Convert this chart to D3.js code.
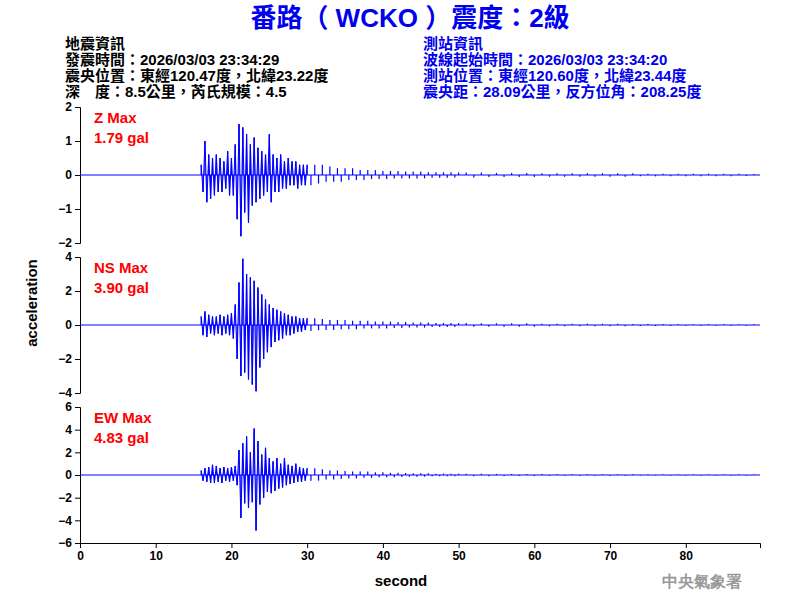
<!DOCTYPE html>
<html lang="en">
<head>
<meta charset="UTF-8">
<title>WCKO</title>
<script src="https://d3js.org/d3.v7.min.js"></script>
<style>
  body { margin: 0; background: #fff; }
  text { font-family: "Liberation Sans", Arial, sans-serif; }
  .cjk { font-family: "Liberation Sans", "Noto Sans CJK TC", sans-serif; font-weight: bold; }
</style>
</head>
<body>
<div id="chart"></div>
<script>
// sample times: 0.25s steps in the strong part, coarser in the coda
const times = [].concat(d3.range(16, 30.01, 0.25), d3.range(30.5, 50.01, 0.5), d3.range(51, 89.01, 1));

const zVals = [
  0.3,-0.5,1.0,-0.8,0.6,-0.7,0.5,-0.6,
  0.6,-0.5,0.5,-0.5,0.4,-0.4,0.7,-0.6,
  0.5,-0.6,0.9,-1.3,1.5,-1.8,1.4,-1.1,
  1.2,-1.4,0.9,-0.9,1.1,-0.8,0.8,-0.7,
  0.7,-0.6,0.6,-0.5,1.2,-0.8,0.6,-0.5,
  0.5,-0.5,0.6,-0.4,0.4,-0.4,0.5,-0.3,
  0.4,-0.3,0.4,-0.4,0.3,-0.3,0.3,-0.3,
  0.3,
  -0.3,0.3,-0.25,0.3,-0.2,0.25,-0.2,0.2,-0.2,0.2,
  -0.15,0.2,-0.15,0.15,-0.15,0.15,-0.12,0.15,-0.12,0.12,
  -0.12,0.12,-0.1,0.12,-0.1,0.1,-0.1,0.1,-0.1,0.1,
  -0.1,0.08,-0.08,0.08,-0.08,0.08,-0.08,0.08,-0.07,0.07,
  0.07,-0.07,0.07,-0.06,0.06,-0.06,0.06,-0.06,0.06,-0.06,
  0.05,-0.05,0.05,-0.05,0.05,-0.05,0.05,-0.05,0.05,-0.05,
  0.05,-0.05,0.05,-0.04,0.04,-0.04,0.04,-0.04,0.04,-0.04,
  0.04,-0.04,0.04,-0.04,0.04,-0.04,0.04,-0.03,0.03
];
const nsVals = [
  0.5,-0.6,0.8,-0.7,0.6,-0.5,0.5,-0.6,
  0.5,-0.5,0.6,-0.6,0.5,-0.5,0.6,-0.6,
  0.7,-0.8,1.2,-2.0,2.5,-3.0,3.9,-2.8,
  3.0,-3.2,2.8,-3.5,2.6,-3.9,2.2,-2.5,
  1.8,-2.0,1.5,-1.6,1.2,-1.3,1.0,-1.0,
  0.9,-0.9,0.8,-0.8,0.7,-0.6,0.6,-0.6,
  0.5,-0.5,0.5,-0.4,0.4,-0.4,0.4,-0.3,
  0.4,
  -0.35,0.4,-0.3,0.35,-0.3,0.3,-0.3,0.3,-0.25,0.3,
  -0.25,0.25,-0.25,0.25,-0.2,0.25,-0.2,0.2,-0.2,0.2,
  -0.2,0.2,-0.18,0.18,-0.18,0.18,-0.15,0.15,-0.15,0.15,
  -0.15,0.15,-0.12,0.12,-0.12,0.12,-0.12,0.12,-0.12,0.12,
  0.12,-0.1,0.1,-0.1,0.1,-0.1,0.1,-0.1,0.1,-0.1,
  0.08,-0.08,0.08,-0.08,0.08,-0.08,0.08,-0.07,0.07,-0.07,
  0.07,-0.07,0.06,-0.06,0.06,-0.06,0.06,-0.06,0.05,-0.05,
  0.05,-0.05,0.05,-0.05,0.05,-0.05,0.05,-0.05,0.05
];
const ewVals = [
  0.4,-0.5,0.6,-0.6,0.7,-0.7,0.9,-0.7,
  0.8,-0.6,0.6,-0.7,0.7,-0.5,0.6,-0.6,
  0.7,-0.5,0.8,-0.9,2.2,-3.8,2.8,-2.5,
  3.4,-2.9,2.0,-2.4,4.1,-4.9,3.0,-2.6,
  1.8,-2.0,2.4,-1.5,1.5,-1.6,1.2,-1.4,
  1.5,-1.2,1.0,-1.1,1.5,-0.9,0.9,-0.8,
  0.8,-0.7,1.0,-0.6,0.7,-0.6,0.6,-0.5,
  0.6,
  -0.5,0.6,-0.5,0.5,-0.4,0.4,-0.4,0.4,-0.35,0.35,
  -0.3,0.3,-0.3,0.3,-0.25,0.3,-0.25,0.25,-0.2,0.25,
  -0.2,0.2,-0.2,0.2,-0.18,0.18,-0.15,0.15,-0.15,0.15,
  -0.15,0.15,-0.12,0.12,-0.12,0.12,-0.12,0.12,-0.1,0.1,
  0.1,-0.1,0.1,-0.1,0.1,-0.08,0.08,-0.08,0.08,-0.08,
  0.08,-0.08,0.07,-0.07,0.07,-0.07,0.07,-0.06,0.06,-0.06,
  0.06,-0.06,0.06,-0.05,0.05,-0.05,0.05,-0.05,0.05,-0.05,
  0.05,-0.05,0.05,-0.04,0.04,-0.04,0.04,-0.04,0.04
];

const channels = [
  { name: "Z Max",  peak: "1.79 gal", vals: zVals,  lim: 2, ticks: [-2,-1,0,1,2] },
  { name: "NS Max", peak: "3.90 gal", vals: nsVals, lim: 4, ticks: [-4,-2,0,2,4] },
  { name: "EW Max", peak: "4.83 gal", vals: ewVals, lim: 6, ticks: [-6,-4,-2,0,2,4,6] }
];
const xTicks = [0,10,20,30,40,50,60,70,80];

const leftInfo = ["地震資訊", "發震時間：2026/03/03 23:34:29", "震央位置：東經120.47度，北緯23.22度", "深　度：8.5公里，芮氏規模：4.5"];
const rightInfo = ["測站資訊", "波線起始時間：2026/03/03 23:34:20", "測站位置：東經120.60度，北緯23.44度", "震央距：28.09公里，反方位角：208.25度"];

const width = 800, height = 600;
const svg = d3.select("#chart").append("svg").attr("width", width).attr("height", height);

const x = d3.scaleLinear().domain([0, 89.8]).range([80, 760]);
const panelTop = [107, 257, 407], panelH = 136;

svg.append("text").attr("class", "cjk").attr("x", 410).attr("y", 27).attr("text-anchor", "middle")
  .attr("fill", "#0000ee").attr("font-size", 26).text("番路（ WCKO ）震度：2級");

svg.selectAll(".li").data(leftInfo).join("text").attr("class", "cjk")
  .attr("x", 65).attr("y", (d, i) => 49 + i * 16).attr("font-size", 15).attr("fill", "#000").text(d => d);
svg.selectAll(".ri").data(rightInfo).join("text").attr("class", "cjk")
  .attr("x", 423).attr("y", (d, i) => 49 + i * 16).attr("font-size", 15).attr("fill", "#0000ee").text(d => d);

channels.forEach((c, k) => {
  const y = d3.scaleLinear().domain([-c.lim, c.lim]).range([panelTop[k] + panelH, panelTop[k]]);
  const g = svg.append("g");
  g.append("g").attr("transform", "translate(80,0)")
    .call(d3.axisLeft(y).tickValues(c.ticks).tickSize(5).tickFormat(d3.format("d")))
    .call(a => a.selectAll("text").attr("font-size", 12).attr("font-weight", "bold").attr("fill", "#000")
      .attr("font-family", "Liberation Sans, Arial"))
    .call(a => a.select(".domain").attr("stroke", "#000"));

  const samples = times.map((t, i) => [t, c.vals[i]]).filter(d => d[1] !== undefined);
  // zero trace, then each sample as a spike from zero
  g.append("line").attr("x1", x(0)).attr("x2", x(89.8)).attr("y1", y(0)).attr("y2", y(0))
    .attr("stroke", "#0000ff");
  g.selectAll(".spike").data(samples).join("line")
    .attr("x1", d => x(d[0])).attr("x2", d => x(d[0]))
    .attr("y1", y(0)).attr("y2", d => y(d[1]))
    .attr("stroke", "#0000ff").attr("stroke-width", 1.2);
  g.append("path").datum(samples.filter(d => d[0] <= 30))
    .attr("d", d3.line().x(d => x(d[0])).y(d => y(d[1])))
    .attr("fill", "none").attr("stroke", "#0000ff").attr("stroke-width", 1);

  g.append("text").attr("x", 94).attr("y", panelTop[k] + 16).attr("fill", "#ff0000")
    .attr("font-size", 15).attr("font-weight", "bold").text(c.name);
  g.append("text").attr("x", 94).attr("y", panelTop[k] + 36).attr("fill", "#ff0000")
    .attr("font-size", 15).attr("font-weight", "bold").text(c.peak);
});

svg.append("g").attr("transform", "translate(0,543)")
  .call(d3.axisBottom(x).tickValues(xTicks).tickSize(5))
  .call(a => a.selectAll("text").attr("font-size", 12).attr("font-weight", "bold").attr("fill", "#000")
    .attr("font-family", "Liberation Sans, Arial"))
  .call(a => a.select(".domain").attr("stroke", "#000"));

svg.append("text").attr("x", 401).attr("y", 586).attr("text-anchor", "middle")
  .attr("font-size", 15).attr("font-weight", "bold").text("second");
svg.append("text").attr("transform", "translate(37,303) rotate(-90)").attr("text-anchor", "middle")
  .attr("font-size", 15).attr("font-weight", "bold").text("acceleration");
svg.append("text").attr("x", 702).attr("y", 587).attr("text-anchor", "middle")
  .attr("font-family", "Noto Sans CJK TC").attr("font-weight", "bold")
  .attr("font-size", 16).attr("fill", "#999").text("中央氣象署");
</script>
</body>
</html>
